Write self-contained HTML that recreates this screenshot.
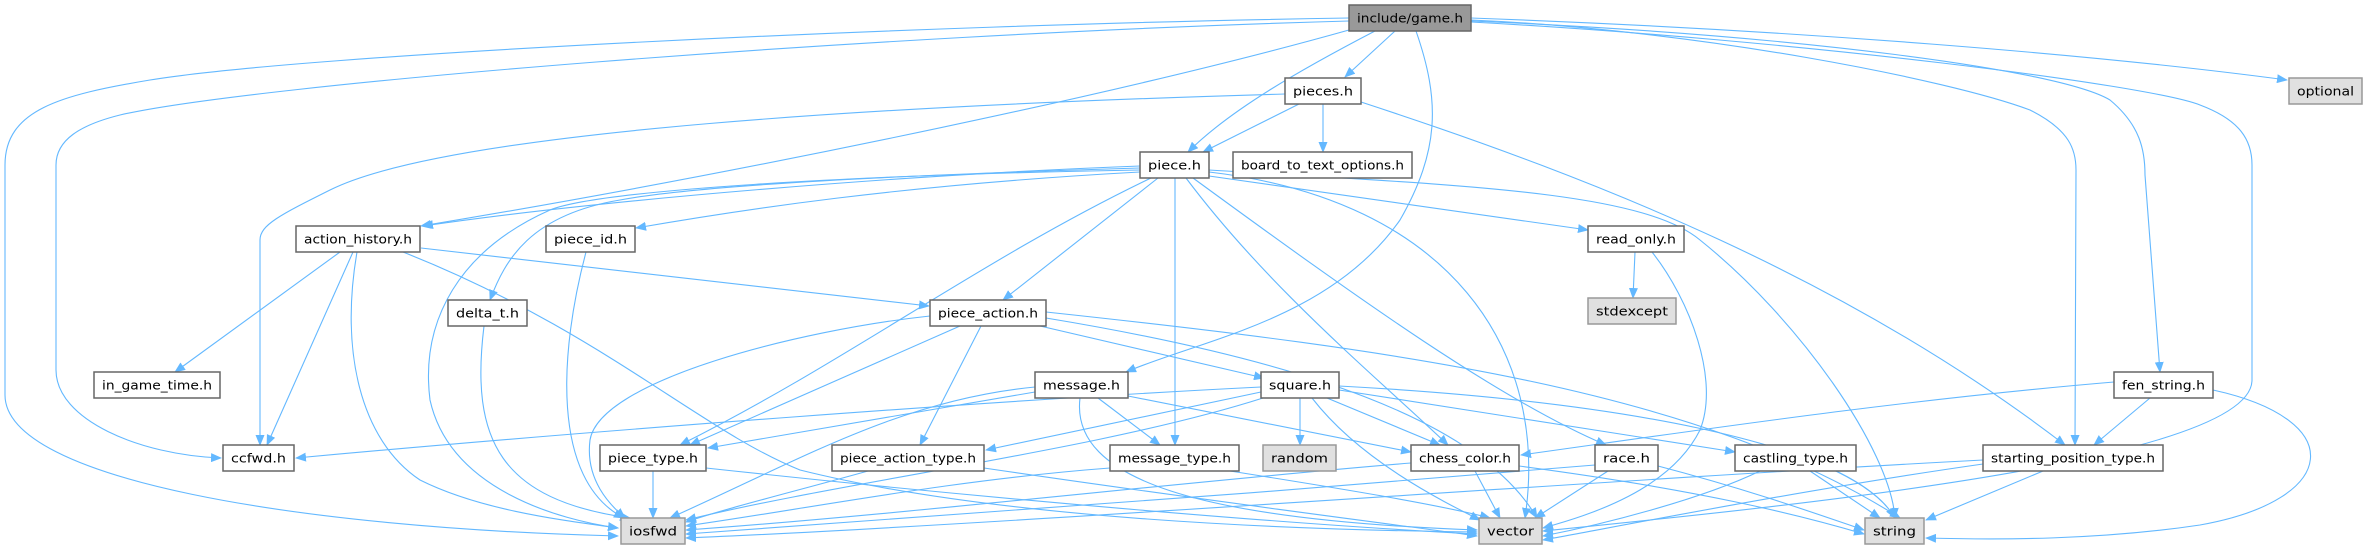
<!DOCTYPE html>
<html><head><meta charset="utf-8"><style>
html,body{margin:0;padding:0;background:#fff;width:2365px;height:549px;overflow:hidden}
svg{display:block}
text{font-family:"DejaVu Sans","Liberation Sans",sans-serif;font-size:12px;fill:#000}
</style></head><body>
<svg id="g" width="2365" height="549" viewBox="0 0 2365 549" xmlns="http://www.w3.org/2000/svg">
<defs><marker id="a" markerUnits="userSpaceOnUse" markerWidth="11" markerHeight="9" refX="10" refY="4.5" orient="auto"><path d="M0,0 L11,4.5 L0,9 z" fill="#63b8ff"/></marker></defs>
<g id="edges" fill="none" stroke="#63b8ff" stroke-width="1.1" marker-end="url(#a)">
<path d="M1349,18 C900,25 300,55 150,80 C60,95 5,110 5,165 L5,395 C5,480 300,528 618,536"/>
<path d="M1349,21 C850,35 250,85 120,115 C80,125 56,140 56,165 L56,370 C56,420 140,455 221,458"/>
<path d="M1349,30 C1100,100 700,180 421,226"/>
<path d="M1375,31 C1300,70 1230,110 1188,152"/>
<path d="M1395,31 L1345,77"/>
<path d="M1416,31 C1440,100 1440,150 1400,220 C1330,320 1200,340 1126,372"/>
<path d="M1471,18 C1800,30 2100,55 2287,80"/>
<path d="M1471,20 C1700,30 1950,80 2030,110 C2070,130 2076,150 2076,170 L2075,445"/>
<path d="M1471,21 C1800,35 2060,70 2110,100 C2140,125 2145,150 2145,175 L2160,372"/>
<path d="M1471,22 C1800,40 2150,85 2200,105 C2240,120 2252,140 2252,165 L2252,380 C2252,460 1800,505 1543,531"/>
<path d="M1285,94 C900,105 450,130 330,190 C280,215 260,225 260,240 L260,445"/>
<path d="M1361,102 C1600,180 1850,280 2065,445"/>
<path d="M1299,104 L1203,152"/>
<path d="M1323,104 L1323,152"/>
<path d="M1140,166 C900,175 600,200 423,226"/>
<path d="M1140,172 C900,185 740,210 636,228"/>
<path d="M1140,168 C900,175 700,185 620,200 C530,215 505,260 490,300"/>
<path d="M1140,170 C850,175 600,190 550,210 C460,250 420,320 430,400 C450,490 560,520 618,528"/>
<path d="M1158,178 L1003,300"/>
<path d="M1151,178 C980,260 850,360 680,445"/>
<path d="M1175,178 L1175,445"/>
<path d="M1186,178 C1270,290 1380,380 1448,445"/>
<path d="M1193,178 C1360,300 1500,400 1606,445"/>
<path d="M1209,176 L1588,230"/>
<path d="M1209,172 C1450,200 1550,350 1525,518"/>
<path d="M1209,170 C1450,185 1640,190 1700,240 C1800,320 1890,450 1895,518"/>
<path d="M340,252 L175,372"/>
<path d="M353,252 L267,445"/>
<path d="M357,252 C340,350 360,440 420,480 C480,510 560,520 618,528"/>
<path d="M421,248 L929,306"/>
<path d="M403,252 C600,330 700,430 800,470 C1000,520 1300,530 1477,532"/>
<path d="M586,252 C560,350 550,480 624,518"/>
<path d="M484,326 C470,440 500,500 630,518"/>
<path d="M930,316 C800,330 600,380 590,440 C585,480 610,505 625,518"/>
<path d="M960,326 L690,445"/>
<path d="M981,326 L920,445"/>
<path d="M1040,326 L1264,378"/>
<path d="M1046,318 C1300,360 1480,420 1537,518"/>
<path d="M1046,312 C1400,350 1700,390 1900,518"/>
<path d="M1035,387 C900,400 800,460 670,518"/>
<path d="M1035,392 L708,448"/>
<path d="M1098,398 L1160,445"/>
<path d="M1128,396 L1411,452"/>
<path d="M1080,398 C1070,480 1200,520 1477,530"/>
<path d="M1261,387 C1000,400 600,430 296,458"/>
<path d="M1261,392 L986,450"/>
<path d="M1263,398 C1100,450 850,480 686,520"/>
<path d="M1300,398 L1300,445"/>
<path d="M1327,398 L1440,445"/>
<path d="M1312,398 C1360,460 1440,500 1480,520"/>
<path d="M1339,390 L1735,452"/>
<path d="M1339,386 C1600,400 1850,440 1895,518"/>
<path d="M653,471 L653,518"/>
<path d="M706,468 C1000,500 1300,525 1477,534"/>
<path d="M868,471 C800,490 720,510 686,522"/>
<path d="M984,468 C1200,500 1400,525 1477,536"/>
<path d="M1110,468 C950,480 800,510 686,526"/>
<path d="M1230,471 C1350,490 1440,505 1490,518"/>
<path d="M1411,463 C1200,480 900,515 686,530"/>
<path d="M1475,471 L1500,518"/>
<path d="M1519,466 C1700,490 1800,515 1864,534"/>
<path d="M1595,465 C1300,490 900,520 686,534"/>
<path d="M1608,471 L1535,518"/>
<path d="M1658,466 C1750,490 1820,515 1864,530"/>
<path d="M1760,471 C1700,500 1600,525 1543,536"/>
<path d="M1810,471 L1880,518"/>
<path d="M1983,460 C1600,480 1000,525 686,538"/>
<path d="M1983,464 C1800,490 1600,530 1543,540"/>
<path d="M2043,471 L1926,520"/>
<path d="M2114,382 C1900,400 1700,430 1521,455"/>
<path d="M2150,398 L2094,445"/>
<path d="M2213,390 C2350,420 2340,500 2200,525 C2100,540 2000,540 1926,538"/>
<path d="M1635,252 L1633,298"/>
<path d="M1652,252 C1690,300 1720,380 1700,430 C1670,490 1590,515 1543,528"/>
</g>
<g id="nodes"></g>
</svg>
<script>
var N=[
["include/game.h",1349,5,1471,31,2],
["pieces.h",1285,78,1361,104,0],
["optional",2289,78,2362,104,1],
["piece.h",1140,152,1209,178,0],
["board_to_text_options.h",1233,152,1412,178,0],
["action_history.h",296,226,420,252,0],
["piece_id.h",546,226,635,252,0],
["read_only.h",1588,226,1684,252,0],
["delta_t.h",448,300,527,326,0],
["piece_action.h",930,300,1046,326,0],
["stdexcept",1588,298,1676,324,1],
["in_game_time.h",94,372,220,398,0],
["message.h",1035,372,1128,398,0],
["square.h",1261,372,1339,398,0],
["fen_string.h",2114,372,2213,398,0],
["ccfwd.h",223,445,294,471,0],
["piece_type.h",600,445,706,471,0],
["piece_action_type.h",832,445,984,471,0],
["message_type.h",1110,445,1239,471,0],
["random",1263,445,1336,471,1],
["chess_color.h",1411,445,1519,471,0],
["race.h",1595,445,1658,471,0],
["castling_type.h",1735,445,1856,471,0],
["starting_position_type.h",1983,445,2163,471,0],
["iosfwd",621,518,685,544,1],
["vector",1479,518,1542,544,1],
["string",1865,518,1924,544,1]];
var g=document.getElementById('nodes'),s='';
N.forEach(function(n){var f=n[5]==2?'#999999':n[5]==1?'#e0e0e0':'#ffffff',st=n[5]==0?'#666666':'#999999';if(n[5]==2)st='#666666';
var w=n[3]-n[1],h=n[4]-n[2];
s+='<rect x="'+n[1]+'" y="'+n[2]+'" width="'+w+'" height="'+h+'" fill="'+f+'" stroke="'+st+'" stroke-width="1.5"/>';
s+='<text x="'+(n[1]+w/2)+'" y="'+(n[2]+h/2+4.5)+'" text-anchor="middle" textLength="'+(w-16)+'" lengthAdjust="spacingAndGlyphs">'+n[0]+'</text>';});
g.innerHTML=s;
</script>
</body></html>
